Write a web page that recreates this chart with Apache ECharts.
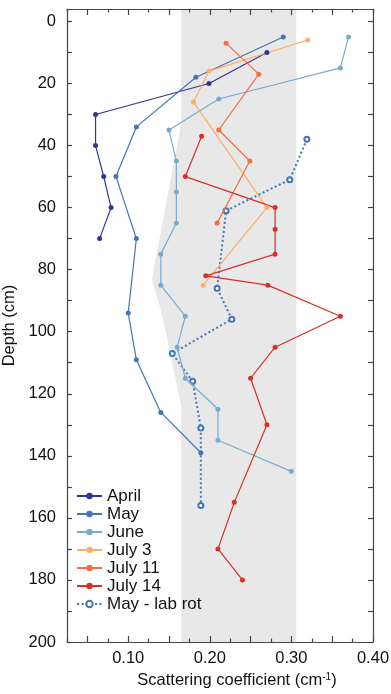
<!DOCTYPE html>
<html>
<head>
<meta charset="utf-8">
<script src="https://cdn.jsdelivr.net/npm/echarts@6/dist/echarts.min.js"></script>
<style>
  html, body { margin: 0; padding: 0; background: #fff; }
  #eChart { width: 391px; height: 694px; }
</style>
</head>
<body>
<div id="eChart"></div>
<script>
// depth (cm) and scattering coefficient (cm-1) per profile
const aprilDepth = [10, 20, 30, 40, 50, 60, 70];
const aprilVal = [0.270, 0.199, 0.060, 0.060, 0.070, 0.079, 0.065];

const mayDepth = [5, 18, 34, 50, 70, 94, 109, 126, 139];
const mayVal = [0.290, 0.183, 0.110, 0.085, 0.110, 0.100, 0.110, 0.140, 0.189];

const juneDepth = [5, 15, 25, 35, 45, 55, 65, 75, 85, 95, 105, 115, 125, 135, 145];
const juneVal = [0.370, 0.360, 0.211, 0.150, 0.159, 0.159, 0.159, 0.140, 0.140, 0.170, 0.160, 0.170, 0.210, 0.210, 0.300];

const july3Depth = [6, 16, 26, 60, 85];
const july3Val = [0.320, 0.199, 0.180, 0.270, 0.192];

const july11Depth = [7, 17, 35, 45, 65];
const july11Val = [0.220, 0.260, 0.211, 0.249, 0.209];

const july14Depth = [37, 50, 60, 67, 75, 82, 85, 95, 105, 115, 130, 155, 170, 180];
const july14Val = [0.190, 0.170, 0.280, 0.280, 0.280, 0.195, 0.271, 0.360, 0.280, 0.250, 0.270, 0.230, 0.210, 0.240];

const labRotDepth = [38, 51, 61, 86, 96, 107, 116, 131, 156];
const labRotVal = [0.319, 0.298, 0.220, 0.209, 0.227, 0.154, 0.179, 0.189, 0.189];

// grey band
const bandDepth = [-4, 33, 83, 95, 124, 200];
const bandLeft = [0.165, 0.165, 0.129, 0.142, 0.165, 0.165];
const bandRight = 0.306;

const legendNames = ["April", "May", "June", "July 3", "July 11", "July 14", "May - lab rot"];
const xTickMajor = [0.05, 0.10, 0.15, 0.20, 0.25, 0.30, 0.35, 0.40];
const xTickMinor = [0.025, 0.075, 0.125, 0.175, 0.225, 0.275, 0.325, 0.375];
const xLabels = [0.10, 0.20, 0.30, 0.40];
const yTicks = [0, 10, 20, 30, 40, 50, 60, 70, 80, 90, 100, 110, 120, 130, 140, 150, 160, 170, 180, 190, 200];
const yLabels = [0, 20, 40, 60, 80, 100, 120, 140, 160, 180, 200];

const FONT = "'Liberation Sans', Arial, sans-serif";
const AXIS_COLOR = "#444";

function pairs(vals, depths) {
  return vals.map((v, i) => [v, depths[i]]);
}

function profile(name, color, vals, depths) {
  return {
    name: name,
    type: "line",
    data: pairs(vals, depths),
    symbol: "circle",
    symbolSize: 5,
    showSymbol: true,
    lineStyle: { color: color, width: 1.2 },
    itemStyle: { color: color },
    z: 3,
  };
}

function xAxisBase(pos, ticks, len, withLine) {
  return {
    type: "value",
    position: pos,
    min: 0.025,
    max: 0.4,
    axisLine: { show: withLine, onZero: false, lineStyle: { color: AXIS_COLOR, width: 1.2 } },
    axisTick: { show: true, inside: true, length: len, customValues: ticks, lineStyle: { color: AXIS_COLOR, width: 1.2 } },
    axisLabel: { show: false },
    splitLine: { show: false },
  };
}

const mainX = xAxisBase("bottom", xTickMajor, 6, true);
mainX.axisLabel = {
  show: true,
  customValues: xLabels,
  formatter: (v) => v.toFixed(2),
  fontSize: 16.5,
  fontFamily: FONT,
  color: "#111",
  margin: 8,
};
mainX.name = "Scattering coefficient (cm{sup|-1})";
mainX.nameLocation = "middle";
mainX.nameGap = 26;
mainX.nameTextStyle = {
  fontSize: 16.5,
  fontFamily: FONT,
  color: "#111",
  padding: [0, 0, 0, 34],
  rich: { sup: { fontSize: 10, fontFamily: FONT, color: "#111", verticalAlign: "top", padding: [0, 0, 8, 0] } },
};

const option = {
  animation: false,
  grid: { left: 67, right: 18, top: 9, bottom: 52, containLabel: false, outerBoundsMode: "none" },
  legend: {
    data: legendNames,
    orient: "vertical",
    left: 71,
    top: 482,
    itemWidth: 25,
    itemHeight: 8,
    itemGap: 0,
    textStyle: { fontSize: 17, fontFamily: FONT, color: "#111", lineHeight: 18 },
  },
  xAxis: [
    mainX,
    xAxisBase("bottom", xTickMinor, 3.5, false),
    xAxisBase("top", xTickMajor, 6, true),
    xAxisBase("top", xTickMinor, 3.5, false),
  ],
  yAxis: [
    {
      type: "value",
      inverse: true,
      min: -4,
      max: 200,
      position: "left",
      axisLine: { show: true, onZero: false, lineStyle: { color: AXIS_COLOR, width: 1.2 } },
      axisTick: { show: true, inside: true, length: 5, customValues: yTicks, lineStyle: { color: AXIS_COLOR, width: 1.2 } },
      axisLabel: { customValues: yLabels, fontSize: 16.5, fontFamily: FONT, color: "#111", margin: 11 },
      splitLine: { show: false },
      name: "Depth (cm)",
      nameLocation: "middle",
      nameRotate: 90,
      nameGap: 45,
      nameTextStyle: { fontSize: 16.5, fontFamily: FONT, color: "#111" },
    },
    {
      type: "value",
      inverse: true,
      min: -4,
      max: 200,
      position: "right",
      axisLine: { show: true, onZero: false, lineStyle: { color: AXIS_COLOR, width: 1.2 } },
      axisTick: { show: true, inside: true, length: 5, customValues: yTicks, lineStyle: { color: AXIS_COLOR, width: 1.2 } },
      axisLabel: { show: false },
      splitLine: { show: false },
    },
  ],
  series: [
    {
      type: "custom",
      name: "band",
      silent: true,
      z: 0,
      data: pairs(bandLeft, bandDepth),
      encode: { x: 0, y: 1 },
      renderItem: function (params, api) {
        if (params.dataIndex !== 0) return;
        const pts = bandDepth.map((d, i) => api.coord([bandLeft[i], d]));
        pts.push(api.coord([bandRight, 200]));
        pts.push(api.coord([bandRight, -4]));
        return { type: "polygon", shape: { points: pts }, style: { fill: "#e8e8e8" } };
      },
    },
    profile("April", "#313695", aprilVal, aprilDepth),
    profile("May", "#4575b4", mayVal, mayDepth),
    profile("June", "#74add1", juneVal, juneDepth),
    profile("July 3", "#fdae61", july3Val, july3Depth),
    profile("July 11", "#f46d43", july11Val, july11Depth),
    profile("July 14", "#d73027", july14Val, july14Depth),
    {
      name: "May - lab rot",
      type: "line",
      data: pairs(labRotVal, labRotDepth),
      symbol: "emptyCircle",
      symbolSize: 5,
      lineStyle: { color: "#4575b4", width: 2, type: [2, 2.5] },
      itemStyle: { color: "#4575b4", borderWidth: 0.8 },
      z: 2,
    },
  ],
};

const myChart = echarts.init(document.getElementById("eChart"), null, { renderer: "canvas" });
myChart.setOption(option);
</script>
</body>
</html>
